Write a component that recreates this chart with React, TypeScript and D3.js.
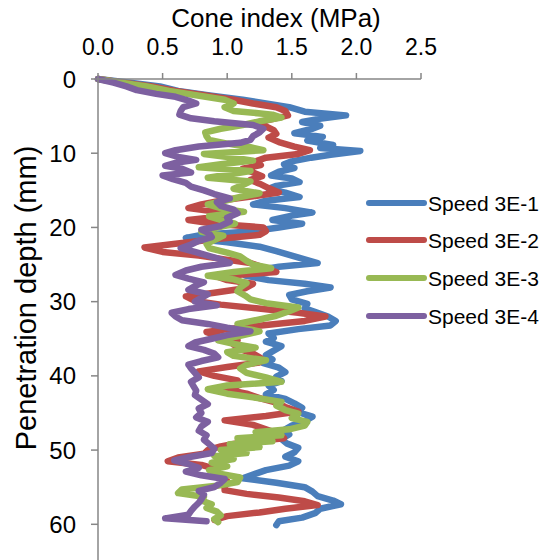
import React from "react";
import * as d3 from "d3";

const xTicks = [0, 0.5, 1.0, 1.5, 2.0, 2.5];
const yTicks = [0, 10, 20, 30, 40, 50, 60];
const seriesNames = ["Speed 3E-1", "Speed 3E-2", "Speed 3E-3", "Speed 3E-4"];
const seriesColors = ["#4A7EBB", "#BE4B48", "#98B954", "#7D60A0"];

const depth1 = [0,0.5,1,1.6,2.2,2.8,3.3,3.8,4.4,4.9,5.4,5.8,6.3,6.7,7.3,7.8,8.3,8.9,9.3,9.7,10.2,10.6,11.1,11.5,12,12.5,13,13.4,13.9,14.4,14.8,15.3,15.9,16.4,16.9,17.4,18,18.4,19,19.5,20,20.5,21,21.4,22,22.6,23.2,23.8,24.3,24.8,25.3,25.9,26.5,27.1,27.6,28.1,28.6,29.1,29.7,30.3,30.9,31.5,32,32.6,33.2,33.7,34.3,34.9,35.4,36,36.6,37.2,37.8,38.3,38.9,39.5,40.1,40.7,41.3,41.9,42.5,43.1,43.7,44.3,44.9,45.5,46.1,46.7,47.3,47.9,48.5,49.1,49.7,50.3,50.9,51.5,52.1,52.7,53.3,53.8,54.4,55,55.6,56.2,56.8,57.3,57.9,58.5,59.1,59.6,60.1];
const cone1 = [0,0.25,0.48,0.62,0.85,1.12,1.3,1.48,1.6,1.92,1.7,1.58,1.72,1.66,1.52,1.74,1.62,1.82,1.72,2.03,1.8,1.65,1.5,1.44,1.52,1.4,1.34,1.5,1.56,1.38,1.32,1.45,1.56,1.3,1.2,1.45,1.66,1.5,1.35,1.58,1.4,1.2,0.8,0.68,1.0,1.25,1.38,1.5,1.6,1.7,1.4,1.18,1.14,1.32,1.6,1.8,1.62,1.48,1.5,1.62,1.6,1.7,1.78,1.84,1.8,1.55,1.32,1.36,1.3,1.42,1.36,1.3,1.35,1.28,1.4,1.45,1.38,1.42,1.32,1.36,1.3,1.45,1.52,1.58,1.55,1.66,1.6,1.5,1.44,1.48,1.42,1.46,1.55,1.52,1.45,1.55,1.48,1.3,1.2,1.12,1.38,1.6,1.66,1.7,1.82,1.88,1.72,1.68,1.58,1.4,1.38];

const depth2 = [0,0.5,1,1.6,2.2,2.8,3.3,3.8,4.3,4.9,5.4,5.9,6.4,6.9,7.4,7.9,8.5,9.1,9.6,10.1,10.6,11.1,11.6,12.1,12.6,13.1,13.6,14.1,14.7,15.3,15.8,16.3,16.9,17.4,17.9,18.4,19,19.5,20,20.5,21,21.6,22.2,22.7,23.3,23.8,24.3,24.8,25.4,26,26.6,27.1,27.6,28.2,28.8,29.3,29.9,30.4,31,31.5,32,32.6,33.1,33.6,34.1,34.7,35.2,35.8,36.4,37,37.6,38.2,38.8,39.4,40,40.6,41.2,41.8,42.4,43,43.6,44.2,44.8,45.4,46,46.6,47.2,47.8,48.4,49,49.5,50,50.5,51,51.5,52,52.6,53.1,53.7,54.2,54.8,55.4,55.9,56.4,56.9,57.4,57.9,58.4,58.9,59.4];
const cone2 = [0,0.2,0.42,0.6,0.82,1.05,1.2,1.38,1.45,1.47,1.35,1.22,1.3,1.36,1.38,1.32,1.4,1.52,1.64,1.55,1.3,1.22,1.26,1.12,1.2,1.27,1.18,1.25,1.32,1.4,1.2,0.98,0.8,0.7,0.92,1.02,0.7,0.9,1.28,1.3,1.25,0.9,0.6,0.36,0.5,0.78,0.98,1.18,1.28,1.38,0.92,1.0,1.2,1.14,0.9,0.68,0.75,0.95,1.28,1.55,1.76,1.6,1.32,1.05,0.84,0.95,1.08,1.05,1.1,1.2,1.26,1.25,1.0,0.78,0.9,1.08,1.1,0.98,1.15,1.25,1.38,1.45,1.55,1.3,0.98,1.2,1.3,1.4,1.44,1.1,0.95,0.85,0.82,0.62,0.54,0.8,0.92,0.9,0.96,1.0,0.98,0.98,1.15,1.4,1.6,1.7,1.45,1.25,1.0,0.9];

const depth3 = [0,0.5,1,1.6,2.2,2.8,3.3,3.8,4.3,4.8,5.2,5.7,6.2,6.7,7.2,7.7,8.2,8.7,9.2,9.6,10.1,10.6,11,11.5,11.9,12.4,12.9,13.3,13.8,14.3,14.8,15.4,15.9,16.4,16.9,17.4,17.9,18.5,19,19.5,20.1,20.6,21.1,21.7,22.2,22.8,23.4,23.9,24.5,25,25.5,26,26.5,27,27.5,28.1,28.6,29.2,29.7,30.2,30.8,31.3,31.9,32.4,33,33.5,34,34.6,35.2,35.7,36.2,36.8,37.3,37.9,38.5,39,39.6,40.2,40.8,41.3,41.8,42.4,42.9,43.5,44,44.6,45.1,45.7,46.2,46.7,47.2,47.6,48,48.4,48.8,49.2,49.6,50,50.4,50.8,51.2,51.7,52.2,52.7,53.2,53.7,54.3,54.8,55.3,55.8,56.3,56.8,57.3,57.8,58.3,58.8,59.3,59.7];
const cone3 = [0,0.18,0.38,0.55,0.76,0.98,1.05,0.98,1.05,1.35,1.42,1.25,1.12,0.95,0.83,0.84,0.86,1.0,1.18,1.28,0.82,1.05,1.2,0.95,0.78,1.18,1.0,0.85,1.18,1.12,1.05,1.25,1.1,0.98,0.85,0.95,1.13,0.86,0.95,1.06,0.9,0.8,0.97,0.9,0.84,0.86,1.0,1.1,1.15,1.2,1.34,1.05,0.85,1.05,1.15,1.1,1.08,1.14,1.18,1.3,1.55,1.48,1.38,1.25,1.08,1.1,1.25,1.1,0.93,1.05,1.22,1.0,1.05,1.3,1.15,1.1,1.15,1.3,1.42,1.0,0.85,1.0,1.2,1.42,1.38,1.45,1.55,1.5,1.62,1.6,1.48,1.22,1.42,1.08,1.35,1.02,1.25,0.95,1.15,0.9,1.05,0.88,1.0,0.86,0.95,1.1,1.08,0.92,0.65,0.62,0.82,0.8,0.88,0.84,0.92,0.95,0.9,0.93];

const depth4 = [0,0.5,1,1.5,2,2.4,2.9,3.3,3.8,4.3,4.8,5.3,5.7,6.2,6.7,7.2,7.7,8.2,8.6,9.1,9.6,10,10.5,10.9,11.3,11.7,12.1,12.6,13,13.5,14,14.5,15,15.5,16.1,16.6,17.1,17.6,18.1,18.7,19.2,19.8,20.3,20.8,21.3,21.8,22.3,22.8,23.3,23.8,24.3,24.8,25.3,25.8,26.4,26.9,27.4,27.9,28.4,29,29.5,30,30.5,31,31.5,32,32.5,33,33.5,34,34.5,35,35.5,36,36.5,37,37.5,38,38.5,39,39.6,40.2,40.8,41.4,42,42.6,43.2,43.8,44.4,45,45.6,46.2,46.8,47.4,48,48.6,49.2,49.8,50.4,50.9,51.4,51.9,52.4,52.9,53.4,53.9,54.4,55,55.5,56,56.6,57.1,57.6,58.2,58.7,59.2,59.6];
const cone4 = [0,0.12,0.22,0.3,0.45,0.6,0.7,0.76,0.66,0.64,0.63,0.72,0.9,1.2,1.28,1.25,1.2,1.18,1.1,0.78,0.6,0.52,0.62,0.76,0.6,0.52,0.65,0.72,0.5,0.58,0.68,0.72,0.82,0.9,1.02,0.92,0.95,1.05,1.08,1.0,1.02,0.95,0.8,0.86,0.88,0.78,0.72,0.64,0.75,0.85,0.95,1.02,0.8,0.68,0.6,0.7,0.82,0.75,0.7,0.85,0.8,0.75,0.92,0.7,0.57,0.6,0.65,0.85,1.0,1.18,1.0,0.88,0.75,0.7,0.82,0.9,0.93,0.8,0.7,0.72,0.75,0.78,0.72,0.74,0.76,0.75,0.8,0.85,0.78,0.8,0.76,0.85,0.8,0.78,0.84,0.82,0.86,0.9,0.88,0.72,0.59,0.7,0.78,0.68,0.8,0.98,0.95,0.9,0.78,0.82,0.8,0.78,0.75,0.72,0.7,0.52,0.84];

const depths = [depth1, depth2, depth3, depth4];
const cones = [cone1, cone2, cone3, cone4];

const W = 543;
const H = 560;
const x0 = 98;
const x1 = 421;
const y0 = 79;

export default function App() {
  const x = d3.scaleLinear().domain([0, 2.5]).range([x0, x1]);
  const y = d3.scaleLinear().domain([0, 60]).range([y0, 524.3]);
  const line = d3
    .line<[number, number]>()
    .x((p) => x(p[1]))
    .y((p) => y(p[0]));
  const font = "'Liberation Sans', Arial, sans-serif";
  const axisColor = "#868686";
  const legendY = [203, 240, 278, 316];

  return (
    <svg
      width={W}
      height={H}
      style={{ position: "absolute", left: 0, top: 0, background: "#fff" }}
      fontFamily={font}
    >
      <rect x={0} y={0} width={W} height={H} fill="#fff" />
      {depths.map((ds, i) => {
        const pts = ds.map((d, k) => [d, cones[i][k]] as [number, number]);
        return (
          <path
            key={i}
            d={line(pts) || ""}
            fill="none"
            stroke={seriesColors[i]}
            strokeWidth={6.5}
            strokeLinejoin="round"
            strokeLinecap="round"
          />
        );
      })}
      <line x1={x0} x2={x(2.5)} y1={y0} y2={y0} stroke={axisColor} strokeWidth={1.5} />
      <line x1={x0} x2={x0} y1={y0} y2={y(70)} stroke={axisColor} strokeWidth={1.5} />
      {xTicks.map((t) => (
        <g key={"xt" + t}>
          <line x1={x(t)} x2={x(t)} y1={y0} y2={y0 - 6} stroke={axisColor} strokeWidth={1.5} />
          <text x={x(t)} y={55} textAnchor="middle" fontSize={23} fill="#000">
            {t.toFixed(1)}
          </text>
        </g>
      ))}
      {yTicks.map((t) => (
        <g key={"yt" + t}>
          <line x1={x0 - 7} x2={x0} y1={y(t)} y2={y(t)} stroke={axisColor} strokeWidth={1.5} />
          <text x={76} y={y(t) + 8.5} textAnchor="end" fontSize={24} fill="#000">
            {t}
          </text>
        </g>
      ))}
      <text x={276} y={27} textAnchor="middle" fontSize={26} fill="#000">
        Cone index (MPa)
      </text>
      <text
        transform={`translate(36,298) rotate(-90)`}
        textAnchor="middle"
        fontSize={29}
        fill="#000"
      >
        Penetration depth (mm)
      </text>
      {seriesNames.map((n, i) => (
        <g key={n}>
          <line
            x1={369}
            x2={424}
            y1={legendY[i]}
            y2={legendY[i]}
            stroke={seriesColors[i]}
            strokeWidth={6}
            strokeLinecap="round"
          />
          <text x={428} y={legendY[i] + 7.5} fontSize={21} fill="#000">
            {n}
          </text>
        </g>
      ))}
    </svg>
  );
}
